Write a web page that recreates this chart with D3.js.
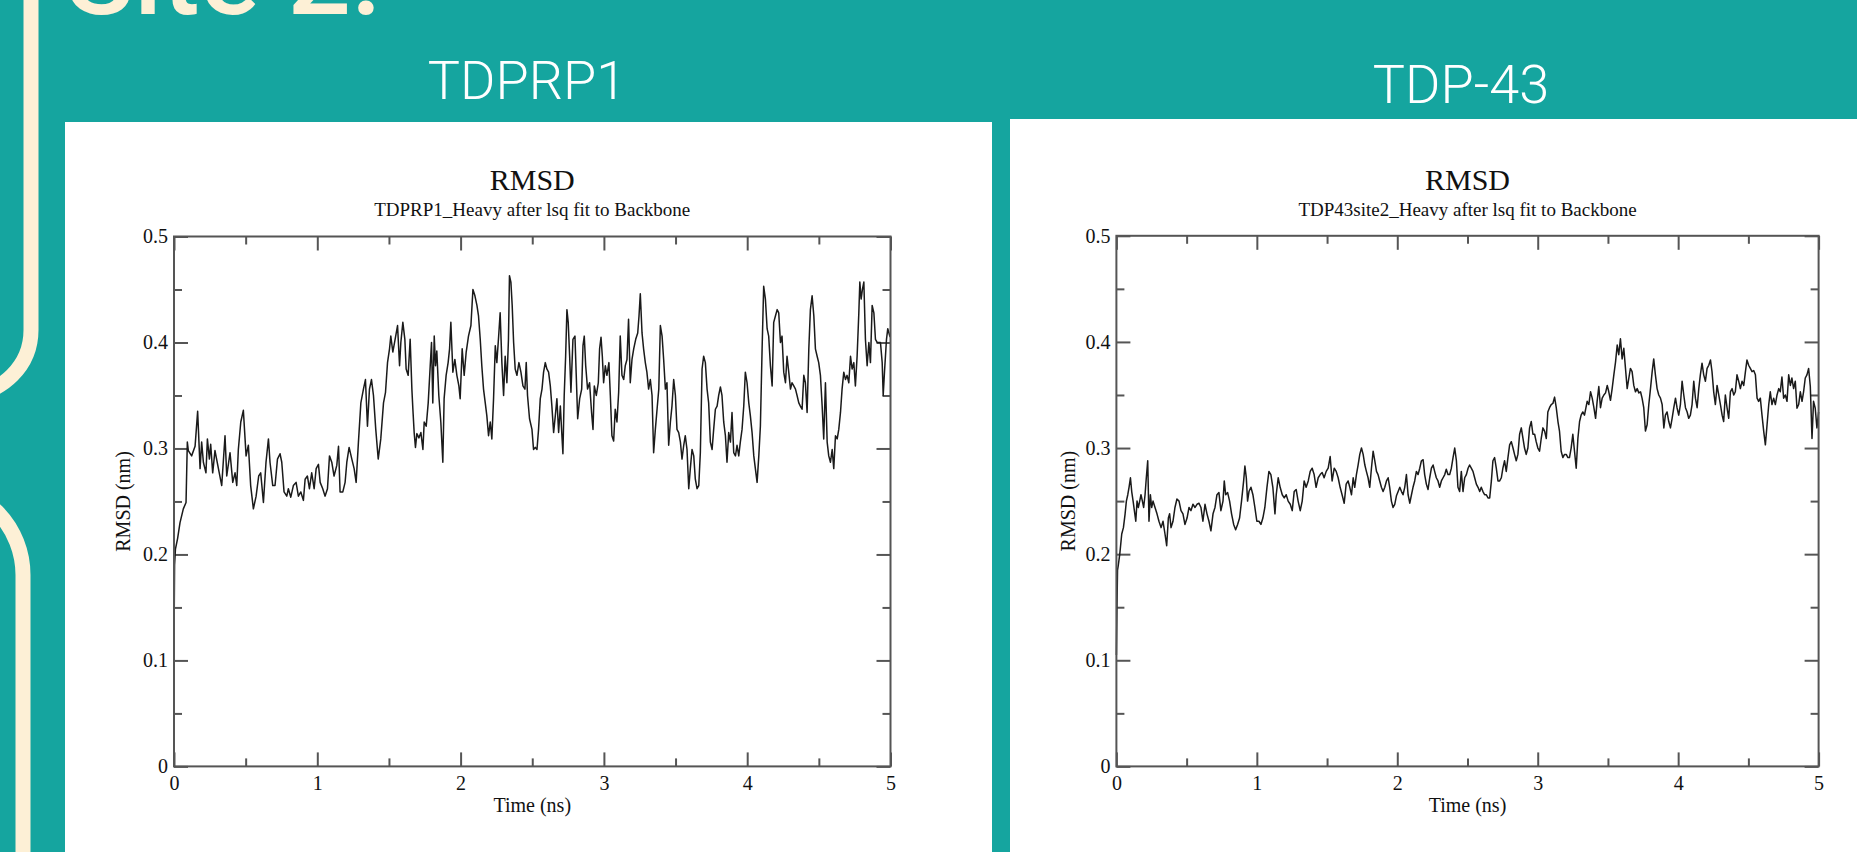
<!DOCTYPE html>
<html>
<head>
<meta charset="utf-8">
<script src="https://cdn.jsdelivr.net/npm/d3@7"></script>
<style>
  html, body { margin: 0; padding: 0; background: #15a59f; overflow: hidden; }
  svg { display: block; }
</style>
</head>
<body>
<svg id="chart" width="1857" height="852"></svg>
<script>
// ---------------- DATA ----------------
const panelTitles = ["TDPRP1", "TDP-43"];
const chartTitles = ["RMSD", "RMSD"];
const chartSubtitles = ["TDPRP1_Heavy after lsq fit to Backbone", "TDP43site2_Heavy after lsq fit to Backbone"];
const xAxisTitle = "Time (ns)";
const yAxisTitle = "RMSD (nm)";
const xMajorTicks = [0, 1, 2, 3, 4, 5];
const xMinorTicks = [0.5, 1.5, 2.5, 3.5, 4.5];
const yMajorTicks = [0, 0.1, 0.2, 0.3, 0.4, 0.5];
const yMinorTicks = [0.05, 0.15, 0.25, 0.35, 0.45];
const xDomain = [0, 5];
const yDomain = [0, 0.5];

// [time (ns), RMSD (nm)]
const tdprp1Series = [
[0,0.115],[0.004,0.19],[0.01,0.205],[0.025,0.215],[0.042,0.23],[0.065,0.243],[0.084,0.249],[0.093,0.306],[0.1,0.298],[0.123,0.293],[0.147,0.302],[0.165,0.335],[0.182,0.281],[0.193,0.306],[0.205,0.287],[0.223,0.277],[0.233,0.309],[0.247,0.29],[0.256,0.304],[0.27,0.277],[0.286,0.298],[0.31,0.281],[0.333,0.265],[0.356,0.312],[0.368,0.274],[0.391,0.296],[0.41,0.268],[0.426,0.277],[0.438,0.265],[0.449,0.299],[0.466,0.325],[0.484,0.336],[0.503,0.293],[0.519,0.303],[0.535,0.265],[0.554,0.243],[0.573,0.255],[0.591,0.274],[0.605,0.277],[0.624,0.249],[0.642,0.287],[0.659,0.309],[0.67,0.287],[0.689,0.265],[0.705,0.265],[0.722,0.29],[0.74,0.295],[0.752,0.287],[0.768,0.259],[0.787,0.255],[0.798,0.262],[0.815,0.254],[0.833,0.265],[0.852,0.268],[0.868,0.255],[0.885,0.259],[0.903,0.251],[0.915,0.271],[0.931,0.274],[0.945,0.262],[0.961,0.277],[0.978,0.262],[0.992,0.281],[1.008,0.285],[1.02,0.268],[1.038,0.262],[1.054,0.255],[1.071,0.262],[1.085,0.293],[1.101,0.287],[1.117,0.274],[1.136,0.284],[1.148,0.302],[1.159,0.259],[1.178,0.259],[1.194,0.268],[1.206,0.287],[1.222,0.301],[1.241,0.29],[1.257,0.281],[1.271,0.268],[1.287,0.306],[1.304,0.343],[1.322,0.356],[1.336,0.365],[1.35,0.321],[1.364,0.356],[1.378,0.365],[1.392,0.35],[1.408,0.318],[1.425,0.29],[1.443,0.309],[1.462,0.343],[1.476,0.353],[1.49,0.381],[1.504,0.394],[1.513,0.406],[1.527,0.391],[1.543,0.403],[1.56,0.416],[1.574,0.378],[1.583,0.4],[1.597,0.419],[1.611,0.403],[1.62,0.375],[1.634,0.369],[1.648,0.403],
[1.66,0.356],[1.667,0.337],[1.676,0.315],[1.685,0.301],[1.695,0.314],[1.709,0.31],[1.723,0.315],[1.737,0.299],[1.746,0.325],[1.76,0.321],[1.774,0.343],[1.788,0.378],[1.797,0.4],[1.806,0.343],[1.816,0.406],[1.825,0.378],[1.834,0.392],[1.848,0.35],[1.862,0.325],[1.876,0.287],[1.885,0.347],[1.899,0.369],[1.913,0.381],[1.923,0.394],[1.932,0.419],[1.946,0.372],[1.96,0.384],[1.974,0.369],[1.988,0.359],[1.997,0.347],[2.011,0.394],[2.025,0.369],[2.039,0.391],[2.055,0.406],[2.072,0.416],[2.086,0.45],[2.1,0.444],[2.114,0.435],[2.125,0.425],[2.137,0.403],[2.148,0.378],[2.16,0.356],[2.172,0.343],[2.183,0.331],[2.195,0.312],[2.207,0.325],[2.218,0.309],[2.23,0.347],[2.242,0.397],[2.253,0.381],[2.267,0.409],[2.276,0.428],[2.288,0.381],[2.3,0.35],[2.311,0.387],[2.323,0.362],[2.334,0.403],[2.341,0.463],[2.351,0.457],[2.36,0.435],[2.37,0.4],[2.381,0.375],[2.393,0.369],[2.407,0.381],[2.421,0.372],[2.435,0.359],[2.449,0.356],[2.458,0.381],[2.467,0.35],[2.481,0.328],[2.498,0.318],[2.509,0.299],[2.521,0.301],[2.533,0.299],[2.544,0.318],[2.556,0.347],[2.568,0.356],[2.579,0.372],[2.591,0.381],[2.602,0.375],[2.614,0.372],[2.626,0.359],[2.637,0.34],[2.649,0.315],[2.661,0.331],[2.672,0.347],[2.684,0.315],[2.696,0.34],[2.707,0.312],[2.714,0.295],[2.723,0.35],[2.733,0.387],[2.742,0.431],[2.751,0.419],[2.761,0.387],[2.77,0.353],[2.784,0.403],[2.798,0.406],[2.807,0.369],[2.817,0.328],[2.831,0.347],[2.845,0.356],[2.854,0.397],[2.863,0.406],[2.873,0.378],[2.886,0.356],[2.9,0.362],[2.914,0.334],[2.924,0.318],[2.933,0.359],[2.947,0.35],[2.961,0.362],[2.97,0.394],[2.98,0.405],[2.989,0.387],[2.998,0.362],[3.01,0.378],[3.021,0.369],[3.035,0.381],[3.045,0.35],[3.056,0.312],[3.068,0.307],[3.079,0.337],[3.091,0.325],[3.103,0.353],[3.114,0.406],[3.126,0.369],[3.138,0.365],[3.149,0.378],[3.161,0.384],[3.172,0.422],[3.184,0.362],[3.196,0.384],[3.208,0.394],[3.222,0.403],[3.236,0.409],[3.245,0.425],[3.254,0.446],[3.266,0.409],[3.277,0.394],[3.289,0.381],[3.3,0.372],[3.312,0.356],[3.324,0.365],
[3.336,0.35],[3.347,0.296],[3.359,0.318],[3.371,0.337],[3.383,0.356],[3.394,0.416],[3.406,0.406],[3.417,0.384],[3.429,0.356],[3.44,0.362],[3.452,0.303],[3.464,0.325],[3.475,0.34],[3.487,0.365],[3.499,0.35],[3.51,0.318],[3.522,0.315],[3.534,0.306],[3.545,0.29],[3.557,0.303],[3.568,0.312],[3.58,0.299],[3.592,0.262],[3.603,0.281],[3.615,0.299],[3.627,0.293],[3.638,0.271],[3.65,0.262],[3.662,0.265],[3.673,0.296],[3.685,0.375],[3.696,0.387],[3.708,0.381],[3.72,0.356],[3.731,0.343],[3.743,0.306],[3.755,0.299],[3.766,0.318],[3.778,0.337],[3.79,0.34],[3.801,0.35],[3.813,0.358],[3.824,0.35],[3.836,0.325],[3.848,0.312],[3.859,0.287],[3.871,0.315],[3.883,0.306],[3.894,0.334],[3.906,0.296],[3.918,0.293],[3.929,0.303],[3.941,0.293],[3.952,0.306],[3.964,0.318],[3.976,0.34],[3.987,0.372],[3.999,0.362],[4.011,0.343],[4.022,0.331],[4.034,0.315],[4.046,0.293],[4.057,0.281],[4.069,0.268],[4.081,0.293],[4.092,0.321],[4.104,0.394],[4.115,0.453],[4.127,0.441],[4.139,0.413],[4.15,0.406],[4.162,0.378],[4.174,0.359],[4.185,0.419],[4.197,0.425],[4.209,0.431],[4.22,0.428],[4.232,0.4],[4.243,0.406],[4.255,0.372],[4.267,0.362],[4.278,0.387],[4.29,0.372],[4.302,0.356],[4.313,0.362],[4.325,0.359],[4.337,0.356],[4.348,0.35],[4.36,0.343],[4.371,0.34],[4.383,0.337],[4.395,0.369],[4.406,0.362],[4.418,0.334],[4.43,0.394],[4.441,0.431],[4.453,0.444],[4.465,0.425],[4.476,0.394],[4.488,0.387],[4.499,0.381],[4.511,0.369],[4.523,0.34],[4.534,0.309],[4.546,0.362],[4.558,0.306],[4.569,0.293],[4.581,0.287],[4.593,0.299],[4.604,0.281],[4.616,0.312],[4.628,0.309],[4.639,0.318],[4.651,0.334],[4.662,0.356],[4.674,0.372],[4.686,0.365],[4.697,0.369],[4.709,0.362],[4.721,0.387],[4.732,0.375],[4.744,0.381],[4.755,0.359],[4.767,0.387],[4.779,0.428],[4.786,0.457],[4.795,0.441],[4.804,0.45],[4.814,0.457],[4.825,0.403],[4.837,0.378],[4.849,0.4],[4.86,0.381],[4.872,0.435],[4.884,0.428],[4.895,0.403],[4.907,0.4],[4.93,0.4],[4.942,0.381],[4.949,0.35],[4.958,0.372],[4.972,0.403],[4.981,0.413],[4.995,0.406],[5.0,0.405]
];

const tdp43Series = [
[0,0.105],[0.004,0.15],[0.008,0.185],[0.014,0.19],[0.024,0.2],[0.038,0.219],[0.05,0.225],[0.062,0.238],[0.071,0.25],[0.081,0.256],[0.09,0.263],[0.1,0.272],[0.109,0.259],[0.119,0.25],[0.128,0.241],[0.138,0.231],[0.147,0.25],[0.156,0.244],[0.166,0.25],[0.175,0.256],[0.185,0.25],[0.194,0.244],[0.204,0.256],[0.213,0.272],[0.223,0.288],[0.232,0.231],[0.242,0.256],[0.251,0.244],[0.261,0.25],[0.275,0.244],[0.289,0.238],[0.303,0.231],[0.318,0.225],[0.332,0.231],[0.346,0.219],[0.358,0.208],[0.37,0.234],[0.379,0.238],[0.389,0.225],[0.403,0.231],[0.417,0.244],[0.431,0.252],[0.446,0.25],[0.46,0.241],[0.474,0.238],[0.488,0.228],[0.503,0.234],[0.517,0.244],[0.531,0.241],[0.545,0.247],[0.56,0.244],[0.574,0.247],[0.588,0.248],[0.602,0.244],[0.616,0.231],[0.631,0.247],[0.645,0.238],[0.659,0.231],[0.673,0.222],[0.688,0.238],[0.702,0.244],[0.716,0.256],[0.73,0.258],[0.744,0.241],[0.759,0.25],[0.768,0.269],[0.778,0.256],[0.792,0.258],[0.806,0.25],[0.82,0.238],[0.835,0.228],[0.849,0.223],[0.863,0.228],[0.877,0.234],[0.891,0.25],[0.906,0.269],[0.915,0.283],[0.925,0.272],[0.934,0.25],[0.944,0.259],[0.958,0.263],[0.972,0.256],[0.986,0.244],[1.0,0.231],[1.015,0.231],[1.029,0.228],[1.043,0.234],[1.057,0.244],[1.072,0.263],[1.086,0.278],[1.1,0.275],[1.114,0.263],[1.129,0.238],[1.138,0.256],[1.152,0.272],[1.166,0.263],[1.181,0.256],[1.195,0.253],[1.209,0.256],[1.223,0.25],[1.238,0.247],[1.252,0.241],[1.266,0.259],[1.28,0.261],[1.294,0.25],[1.309,0.241],[1.323,0.25],[1.337,0.269],[1.351,0.263],[1.366,0.269],[1.38,0.278],[1.394,0.281],[1.408,0.275],[1.422,0.263],[1.437,0.272],[1.451,0.275],[1.465,0.277],[1.479,0.272],[1.494,0.278],[1.508,0.281],[1.522,0.292],[1.536,0.269],[1.551,0.281],[1.565,0.278],[1.579,0.272],[1.593,0.263],[1.607,0.256],[1.622,0.248],[1.636,0.266],[1.65,0.269],
[1.662,0.263],[1.674,0.256],[1.686,0.272],[1.697,0.263],[1.709,0.275],[1.721,0.284],[1.733,0.294],[1.745,0.3],[1.757,0.294],[1.769,0.284],[1.78,0.278],[1.792,0.272],[1.804,0.263],[1.816,0.281],[1.828,0.297],[1.84,0.288],[1.852,0.278],[1.863,0.275],[1.875,0.269],[1.887,0.263],[1.899,0.259],[1.911,0.263],[1.923,0.269],[1.935,0.272],[1.946,0.263],[1.958,0.25],[1.97,0.244],[1.982,0.247],[1.994,0.255],[2.006,0.259],[2.018,0.263],[2.03,0.259],[2.041,0.256],[2.053,0.263],[2.065,0.275],[2.077,0.256],[2.089,0.248],[2.101,0.256],[2.112,0.263],[2.124,0.269],[2.136,0.278],[2.148,0.275],[2.16,0.281],[2.172,0.288],[2.184,0.289],[2.195,0.275],[2.207,0.266],[2.219,0.261],[2.231,0.272],[2.243,0.281],[2.255,0.284],[2.266,0.278],[2.278,0.272],[2.29,0.269],[2.302,0.263],[2.314,0.269],[2.326,0.272],[2.338,0.275],[2.349,0.28],[2.361,0.275],[2.373,0.275],[2.385,0.281],[2.397,0.291],[2.409,0.3],[2.421,0.288],[2.432,0.263],[2.444,0.259],[2.456,0.278],[2.468,0.259],[2.48,0.272],[2.492,0.275],[2.504,0.281],[2.515,0.284],[2.527,0.281],[2.539,0.278],[2.551,0.272],[2.563,0.266],[2.575,0.263],[2.587,0.259],[2.598,0.263],[2.61,0.259],[2.622,0.256],[2.634,0.256],[2.646,0.253],[2.658,0.253],[2.67,0.269],[2.681,0.288],[2.693,0.291],[2.705,0.281],[2.717,0.269],[2.729,0.269],[2.741,0.272],[2.752,0.281],[2.764,0.288],[2.776,0.278],[2.788,0.291],[2.8,0.303],[2.812,0.306],[2.824,0.3],[2.835,0.294],[2.847,0.288],[2.859,0.294],[2.871,0.313],[2.883,0.319],[2.895,0.309],[2.906,0.3],[2.918,0.294],[2.93,0.3],[2.942,0.319],[2.954,0.325],[2.966,0.313],[2.978,0.313],[2.989,0.306],[3.001,0.3],[3.013,0.297],[3.025,0.309],[3.037,0.319],[3.049,0.316],[3.061,0.309],[3.072,0.334],[3.084,0.338],[3.096,0.341],[3.108,0.342],[3.12,0.348],[3.132,0.338],[3.144,0.325],[3.155,0.316],[3.167,0.297],[3.179,0.291],[3.191,0.294],[3.203,0.294],[3.215,0.291],[3.226,0.291],[3.238,0.3],[3.25,0.313],[3.262,0.297],[3.274,0.281],[3.286,0.309],[3.298,0.325],[3.309,0.331],[3.321,0.334],[3.333,0.331],
[3.352,0.344],[3.364,0.341],[3.376,0.353],[3.388,0.347],[3.4,0.338],[3.412,0.328],[3.423,0.344],[3.435,0.358],[3.447,0.338],[3.459,0.347],[3.471,0.35],[3.483,0.352],[3.495,0.359],[3.506,0.353],[3.518,0.345],[3.53,0.356],[3.542,0.369],[3.554,0.381],[3.566,0.397],[3.577,0.388],[3.589,0.403],[3.601,0.384],[3.613,0.394],[3.625,0.375],[3.637,0.356],[3.649,0.366],[3.66,0.375],[3.672,0.372],[3.684,0.359],[3.696,0.353],[3.708,0.356],[3.72,0.352],[3.732,0.353],[3.743,0.347],[3.755,0.338],[3.767,0.316],[3.779,0.322],[3.791,0.341],[3.803,0.356],[3.815,0.372],[3.826,0.384],[3.838,0.369],[3.85,0.356],[3.862,0.35],[3.874,0.347],[3.886,0.341],[3.898,0.319],[3.909,0.331],[3.921,0.334],[3.933,0.325],[3.945,0.319],[3.957,0.328],[3.969,0.338],[3.981,0.347],[3.992,0.338],[4.004,0.331],[4.016,0.341],[4.028,0.363],[4.04,0.35],[4.052,0.338],[4.064,0.334],[4.075,0.328],[4.087,0.331],[4.099,0.341],[4.111,0.363],[4.123,0.347],[4.135,0.338],[4.147,0.356],[4.158,0.369],[4.17,0.38],[4.182,0.369],[4.194,0.363],[4.206,0.375],[4.218,0.378],[4.23,0.383],[4.241,0.372],[4.253,0.353],[4.265,0.341],[4.277,0.359],[4.289,0.35],[4.301,0.341],[4.313,0.331],[4.324,0.325],[4.336,0.35],[4.348,0.338],[4.36,0.328],[4.372,0.353],[4.384,0.356],[4.396,0.35],[4.407,0.353],[4.419,0.369],[4.431,0.363],[4.443,0.356],[4.455,0.363],[4.467,0.359],[4.479,0.372],[4.49,0.383],[4.502,0.378],[4.514,0.375],[4.526,0.372],[4.538,0.373],[4.55,0.369],[4.562,0.347],[4.573,0.344],[4.585,0.347],[4.597,0.331],[4.609,0.316],[4.621,0.303],[4.633,0.322],[4.645,0.341],[4.656,0.353],[4.668,0.341],[4.68,0.347],[4.692,0.341],[4.704,0.35],[4.716,0.356],[4.727,0.353],[4.739,0.367],[4.751,0.347],[4.763,0.35],[4.775,0.344],[4.787,0.369],[4.799,0.359],[4.81,0.366],[4.822,0.356],[4.834,0.363],[4.846,0.3375],[4.858,0.341],[4.87,0.353],[4.882,0.344],[4.893,0.353],[4.905,0.366],[4.917,0.369],[4.929,0.375],[4.941,0.358],[4.953,0.309],[4.964,0.344],[4.976,0.3375],[4.988,0.319],[5.0,0.334]
];

const seriesList = [tdprp1Series, tdp43Series];

// ---------------- LAYOUT ----------------
const TEAL = "#15a59f";
const CREAM = "#fdf0d6";
const svg = d3.select("#chart");

svg.append("rect").attr("width", 1857).attr("height", 852).attr("fill", TEAL);

// decorative cream strokes at the left edge
const deco = svg.append("g").attr("fill", "none").attr("stroke", CREAM).attr("stroke-width", 15);
{
  const R1 = 64, xA = 31, yA = 330;
  const p1 = d3.path();
  p1.moveTo(xA, -10); p1.lineTo(xA, yA);
  p1.arc(xA - R1, yA, R1, 0, Math.PI / 2, false);
  deco.append("path").attr("d", p1.toString());
  const R2 = 90, xB = 23, yB = 575;
  const p2 = d3.path();
  p2.moveTo(xB, 870); p2.lineTo(xB, yB);
  p2.arc(xB - R2, yB, R2, 0, -Math.PI / 2, true);
  deco.append("path").attr("d", p2.toString());
}

// heading partially cut at top (as in the reference)
svg.append("text").attr("x", 66).attr("y", 14)
  .attr("font-family", "Roboto, 'Open Sans', sans-serif").attr("font-size", 112)
  .attr("font-weight", 500).attr("fill", CREAM).text("Site 2:");

const panels = [
  { rect: [65, 122, 927, 730], title: [527, 99], plot: { l: 174, r: 890.5, t: 236.5, b: 766.4 }, ylab: 123 },
  { rect: [1010, 119, 847, 733], title: [1461, 103], plot: { l: 1116.4, r: 1818.6, t: 235.8, b: 766.4 }, ylab: 1068 }
];

const serif = "'Liberation Serif', 'Times New Roman', Times, serif";
const FRAME = "#555";

panels.forEach((p, i) => {
  svg.append("rect").attr("x", p.rect[0]).attr("y", p.rect[1])
    .attr("width", p.rect[2]).attr("height", p.rect[3]).attr("fill", "#ffffff");

  svg.append("text").attr("x", p.title[0]).attr("y", p.title[1])
    .attr("text-anchor", "middle").attr("fill", "#ffffff")
    .attr("font-family", "Roboto, 'Open Sans', sans-serif").attr("font-weight", 300)
    .attr("font-size", 54).text(panelTitles[i]);

  const P = p.plot;
  const x = d3.scaleLinear().domain(xDomain).range([P.l, P.r]);
  const y = d3.scaleLinear().domain(yDomain).range([P.b, P.t]);
  const g = svg.append("g");
  const cx = (P.l + P.r) / 2;

  g.append("text").attr("x", cx).attr("y", 190).attr("text-anchor", "middle")
    .attr("font-family", serif).attr("font-size", 30).attr("fill", "#111").text(chartTitles[i]);
  g.append("text").attr("x", cx).attr("y", 216).attr("text-anchor", "middle")
    .attr("font-family", serif).attr("font-size", 19).attr("fill", "#111").text(chartSubtitles[i]);

  const fmt = d => d === 0 ? "0" : d3.format(".1f")(d);
  const styleAxis = sel => {
    sel.select(".domain").remove();
    sel.selectAll(".tick line").attr("stroke", FRAME).attr("stroke-width", 2);
    sel.selectAll(".tick text").attr("font-family", serif).attr("font-size", 20).attr("fill", "#111");
  };

  // bottom
  g.append("g").attr("transform", `translate(0,${P.b})`)
    .call(d3.axisBottom(x).tickValues(xMajorTicks).tickSize(-14).tickPadding(9).tickFormat(d3.format("d")))
    .call(styleAxis);
  g.append("g").attr("transform", `translate(0,${P.b})`)
    .call(d3.axisBottom(x).tickValues(xMinorTicks).tickSize(-8).tickFormat(""))
    .call(styleAxis);
  // top
  g.append("g").attr("transform", `translate(0,${P.t})`)
    .call(d3.axisTop(x).tickValues(xMajorTicks).tickSize(-14).tickFormat(""))
    .call(styleAxis);
  g.append("g").attr("transform", `translate(0,${P.t})`)
    .call(d3.axisTop(x).tickValues(xMinorTicks).tickSize(-8).tickFormat(""))
    .call(styleAxis);
  // left
  g.append("g").attr("transform", `translate(${P.l},0)`)
    .call(d3.axisLeft(y).tickValues(yMajorTicks).tickSize(-14).tickPadding(6).tickFormat(fmt))
    .call(styleAxis);
  g.append("g").attr("transform", `translate(${P.l},0)`)
    .call(d3.axisLeft(y).tickValues(yMinorTicks).tickSize(-8).tickFormat(""))
    .call(styleAxis);
  // right
  g.append("g").attr("transform", `translate(${P.r},0)`)
    .call(d3.axisRight(y).tickValues(yMajorTicks).tickSize(-14).tickFormat(""))
    .call(styleAxis);
  g.append("g").attr("transform", `translate(${P.r},0)`)
    .call(d3.axisRight(y).tickValues(yMinorTicks).tickSize(-8).tickFormat(""))
    .call(styleAxis);

  // data line
  const line = d3.line().x(d => x(d[0])).y(d => y(d[1]));
  g.append("path").datum(seriesList[i]).attr("d", line)
    .attr("fill", "none").attr("stroke", "#1a1a1a").attr("stroke-width", 1.5)
    .attr("stroke-linejoin", "round");

  // frame
  g.append("rect").attr("x", P.l).attr("y", P.t).attr("width", P.r - P.l).attr("height", P.b - P.t)
    .attr("fill", "none").attr("stroke", FRAME).attr("stroke-width", 2);

  // axis titles
  g.append("text").attr("x", cx).attr("y", 812).attr("text-anchor", "middle")
    .attr("font-family", serif).attr("font-size", 20).attr("fill", "#111").text(xAxisTitle);
  g.append("text").attr("transform", `translate(${p.ylab + 7},${(P.t + P.b) / 2}) rotate(-90)`)
    .attr("text-anchor", "middle").attr("font-family", serif).attr("font-size", 20)
    .attr("fill", "#111").text(yAxisTitle);
});
</script>
</body>
</html>
